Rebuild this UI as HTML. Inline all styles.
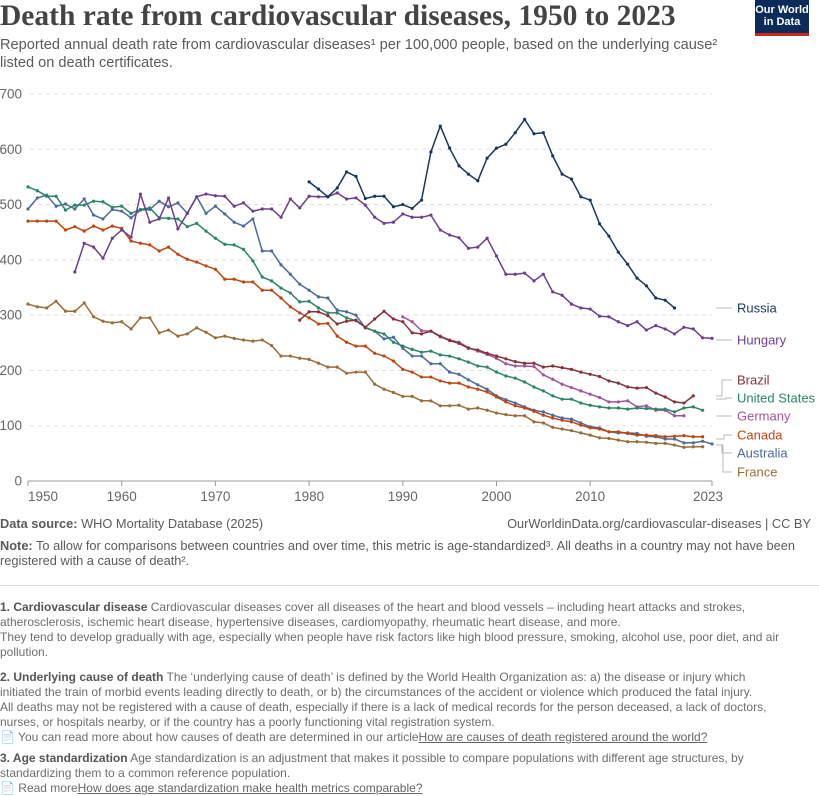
<!DOCTYPE html>
<html><head><meta charset="utf-8">
<style>
body{margin:0;background:#fff;width:819px;height:796px;overflow:hidden;position:relative;font-family:"Liberation Sans",sans-serif;}
.t{position:absolute;white-space:nowrap;}
#title{left:0;top:0px;font-family:"Liberation Serif",serif;font-weight:bold;font-size:29.5px;color:#444;}
.sub{left:0;font-size:14.6px;color:#5b5b5b;}
.foot{left:0;font-size:12.8px;color:#5b5b5b;}
.fn{left:0;font-size:12px;color:#6e6e6e;line-height:15px;}
.fn b{color:#555;}
.fn u{color:#666;}
svg{position:absolute;left:0;top:0;}
</style></head>
<body>
<div class="t" id="title">Death rate from cardiovascular diseases, 1950 to 2023</div>
<div class="t sub" style="top:37px">Reported annual death rate from cardiovascular diseases¹ per 100,000 people, based on the underlying cause²</div>
<div class="t sub" style="top:55px">listed on death certificates.</div>
<div class="t" style="left:755px;top:0;width:54px;background:#0b2c5a;border-bottom:3px solid #ce261e;color:#fff;font-weight:bold;font-size:11px;text-align:center;line-height:12px;padding-top:4px;box-sizing:content-box;height:29px">Our World<br>in Data</div>

<svg width="819" height="796" id="chart"></svg>

<div class="t foot" style="top:516px"><b>Data source:</b> WHO Mortality Database (2025)</div>
<div class="t foot" style="top:516px;left:auto;right:8px">OurWorldinData.org/cardiovascular-diseases | CC BY</div>
<div class="t foot" style="top:538px"><b>Note:</b> To allow for comparisons between countries and over time, this metric is age-standardized³. All deaths in a country may not have been</div>
<div class="t foot" style="top:553px">registered with a cause of death².</div>
<div class="t" style="left:0;top:585px;width:819px;height:1px;background:#ddd"></div>
<div class="t fn" style="top:600px"><b>1. Cardiovascular disease</b> Cardiovascular diseases cover all diseases of the heart and blood vessels – including heart attacks and strokes,<br>atherosclerosis, ischemic heart disease, hypertensive diseases, cardiomyopathy, rheumatic heart disease, and more.<br>They tend to develop gradually with age, especially when people have risk factors like high blood pressure, smoking, alcohol use, poor diet, and air<br>pollution.</div>
<div class="t fn" style="top:670px"><b>2. Underlying cause of death</b> The ‘underlying cause of death’ is defined by the World Health Organization as: a) the disease or injury which<br>initiated the train of morbid events leading directly to death, or b) the circumstances of the accident or violence which produced the fatal injury.<br>All deaths may not be registered with a cause of death, especially if there is a lack of medical records for the person deceased, a lack of doctors,<br>nurses, or hospitals nearby, or if the country has a poorly functioning vital registration system.<br>📄 You can read more about how causes of death are determined in our article<u>How are causes of death registered around the world?</u></div>
<div class="t fn" style="top:751px"><b>3. Age standardization</b> Age standardization is an adjustment that makes it possible to compare populations with different age structures, by<br>standardizing them to a common reference population.<br>📄 Read more<u>How does age standardization make health metrics comparable?</u></div>

<script>
const yTicks=[0,100,200,300,400,500,600,700];
const xTicks=[1950,1960,1970,1980,1990,2000,2010,2023];
const russiaStart=1980;
const russia=[541,528,514,530,559,551,511,515,515,496,500,493,508,595,642,602,570,555,543,584,602,609,630,654,628,630,588,555,546,514,508,465,443,414,392,367,353,331,327,313];
const hungaryStart=1955;
const hungary=[378,430,423,403,439,454,441,519,468,474,512,456,484,514,519,516,515,497,503,488,492,492,477,510,494,515,514,514,521,510,512,499,477,466,468,483,477,477,481,454,445,440,421,423,439,407,374,374,376,362,374,342,336,320,313,311,298,297,288,281,288,273,281,275,266,278,275,259,258];
const brazilStart=1979;
const brazil=[291,306,306,299,284,289,291,278,293,307,293,288,268,266,271,261,254,249,240,237,231,226,221,216,213,213,206,208,205,202,197,193,189,181,177,170,168,169,159,152,143,141,154];
const usStart=1950;
const us=[532,525,515,515,490,499,499,506,505,495,497,484,491,494,476,475,474,460,466,452,439,428,427,419,398,369,362,349,340,324,325,313,304,304,295,290,278,271,266,251,244,238,233,235,228,226,221,215,208,206,197,190,186,179,170,163,154,148,148,141,137,134,132,132,130,132,131,130,130,125,132,134,128];
const germanyStart=1990;
const germany=[297,288,272,271,262,255,251,241,235,229,222,212,208,208,207,192,184,175,169,163,157,151,143,143,145,134,136,128,128,118,118];
const canadaStart=1950;
const canada=[470,470,470,470,454,460,452,461,454,461,457,434,430,427,416,423,410,401,396,389,383,365,365,360,360,345,345,331,315,304,295,284,285,262,251,244,244,231,226,217,202,197,188,188,181,177,177,170,166,161,152,143,136,132,126,119,114,110,107,101,96,94,89,89,86,83,83,82,80,81,82,80,80];
const australiaStart=1950;
const australia=[492,512,517,497,501,492,510,481,474,491,488,476,490,491,506,496,503,484,514,484,497,483,468,461,474,416,416,391,374,356,345,333,331,309,306,300,277,271,257,260,240,226,226,212,212,197,193,183,174,166,154,147,141,134,128,125,119,114,112,105,98,96,89,87,87,86,81,80,76,76,69,69,72,67];
const franceStart=1950;
const france=[320,315,313,325,307,307,322,297,289,286,288,275,295,295,268,273,262,266,277,269,259,262,258,255,253,255,245,226,226,222,220,213,206,206,195,197,197,175,166,160,153,153,145,145,136,136,137,130,132,128,123,120,118,118,107,105,97,94,91,87,83,78,77,74,71,71,70,68,68,65,61,62,62];
const seriesNames=["Russia","Hungary","Brazil","United States","Germany","Canada","Australia","France"];

const svg=document.getElementById('chart');
const NS="http://www.w3.org/2000/svg";
const X0=28,X1=712,Y0=481,YSCALE=0.5529;
function xs(yr){return X0+(yr-1950)*(X1-X0)/73;}
function ys(v){return Y0-v*YSCALE;}
function mk(tag,attrs){const e=document.createElementNS(NS,tag);for(const k in attrs)e.setAttribute(k,attrs[k]);svg.appendChild(e);return e;}

yTicks.forEach(v=>{
  if(v>0){const g=mk('line',{x1:30,x2:712,y1:ys(v),y2:ys(v),stroke:'#ddd','stroke-dasharray':'4,4'});
  
  }
  const t=mk('text',{x:22,y:ys(v)+4.5,'text-anchor':'end','font-size':13.5,fill:'#666','font-family':'Liberation Sans, sans-serif'});
  t.textContent=v;
  
  
});
const ax=mk('line',{x1:X0,x2:X1,y1:Y0,y2:Y0,stroke:'#999'});


xTicks.forEach(yr=>{
  const tk=mk('line',{x1:xs(yr),x2:xs(yr),y1:Y0,y2:Y0+5,stroke:'#999'});
  
  
  const t=mk('text',{x:yr===1950?43:(yr===2023?xs(yr)-4:xs(yr)),y:501,'text-anchor':'middle','font-size':13.5,fill:'#666','font-family':'Liberation Sans, sans-serif'});
  t.textContent=yr;
  
  
});

const series=[
 [france,franceStart,'#996d39','france'],
 [australia,australiaStart,'#4c6a9c','australia'],
 [canada,canadaStart,'#c0440f','canada'],
 [germany,germanyStart,'#a2559c','germany'],
 [us,usStart,'#2c8465','united-states'],
 [brazil,brazilStart,'#883039','brazil'],
 [hungary,hungaryStart,'#6d3e91','hungary'],
 [russia,russiaStart,'#18375f','russia']
];
series.forEach(([vals,start,col,nm])=>{
  const pts=vals.map((v,i)=>xs(start+i).toFixed(1)+','+ys(v).toFixed(1)).join(' ');
  const pl=mk('polyline',{points:pts,fill:'none',stroke:col,'stroke-width':1.5,'stroke-linejoin':'round'});
  
  
  vals.forEach((v,i)=>{
    const c=mk('circle',{cx:xs(start+i),cy:ys(v),r:1.6,fill:col});
    
    
  });
});

const legendY=[308,340,380,398,416,435,453,472];
const legendCol=['#18375f','#6d3e91','#883039','#2c8465','#a2559c','#c0440f','#4c6a9c','#996d39'];
const conn=['M716,308H732','M716,340H732','M716,396H722V380H732','M716,399H726V398H732','M716,416H732','M716,439H724V435H732','M716,445H722V453H732','M716,445H723V472H732'];
seriesNames.forEach((n,i)=>{
  const p=mk('path',{d:conn[i],fill:'none',stroke:'#bbb','stroke-width':1});
  
  
  const t=mk('text',{x:737,y:legendY[i]+4.5,'font-size':13,fill:legendCol[i],'font-family':'Liberation Sans, sans-serif'});
  t.textContent=n;
  
  
});
</script>
</body></html>
